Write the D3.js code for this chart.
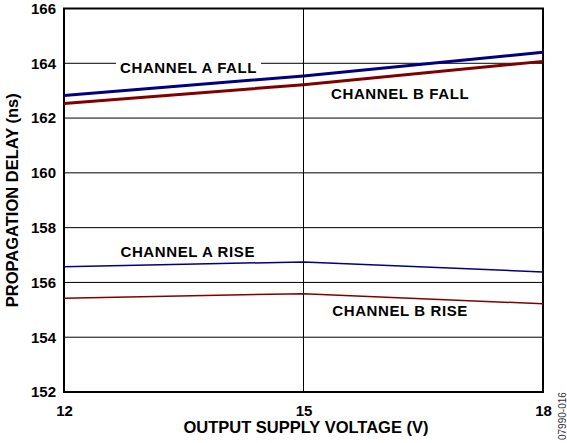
<!DOCTYPE html>
<html>
<head>
<meta charset="utf-8">
<script src="https://cdn.jsdelivr.net/npm/d3@7"></script>
<style>
  body { margin: 0; background: #fff; }
  text { font-family: "Liberation Sans", Arial, sans-serif; font-weight: bold; }
</style>
</head>
<body>
<div id="chart"></div>
<script>
// data
const voltage = [12, 15, 18];
const aFall = [162.82, 163.54, 164.4];
const bFall = [162.53, 163.22, 164.07];
const aRise = [156.57, 156.75, 156.38];
const bRise = [155.42, 155.59, 155.22];
const xTicks = [12, 15, 18];
const yTicks = [152, 154, 156, 158, 160, 162, 164, 166];

const W = 567, H = 443;
const margin = {top: 8.5, right: 24, bottom: 51, left: 64};
const width = W - margin.left - margin.right,
      height = H - margin.top - margin.bottom;

const svg = d3.select("#chart").append("svg")
  .attr("width", W).attr("height", H);
const g = svg.append("g")
  .attr("transform", "translate(" + margin.left + "," + margin.top + ")");

const x = d3.scaleLinear().domain([12, 18]).range([0, width]);
const y = d3.scaleLinear().domain([152, 166]).range([height, 0]);

// grid
g.selectAll(".hgrid").data(yTicks.slice(1, -1)).enter().append("line")
  .attr("x1", 0).attr("x2", width)
  .attr("y1", d => y(d)).attr("y2", d => y(d))
  .attr("stroke", "#000").attr("stroke-width", 1);
g.append("line")
  .attr("x1", x(15)).attr("x2", x(15))
  .attr("y1", 0).attr("y2", height)
  .attr("stroke", "#000").attr("stroke-width", 1);

// axes labels
const yAxis = d3.axisLeft(y).tickValues(yTicks).tickFormat(d3.format("d")).tickSize(0).tickPadding(8);
const xAxis = d3.axisBottom(x).tickValues(xTicks).tickFormat(d3.format("d")).tickSize(0).tickPadding(13);
g.append("g").call(yAxis)
  .call(s => s.select(".domain").remove())
  .call(s => s.attr("font-family", null).attr("font-size", null))
  .selectAll("text").style("font-size", "15px").attr("fill", "#000");
g.append("g").attr("transform", "translate(0," + height + ")").call(xAxis)
  .call(s => s.select(".domain").remove())
  .call(s => s.attr("font-family", null).attr("font-size", null))
  .selectAll("text").style("font-size", "15px").attr("fill", "#000");

// frame
g.append("rect").attr("width", width).attr("height", height)
  .attr("fill", "none").attr("stroke", "#000").attr("stroke-width", 2);

// series
const line = d3.line().x((d, i) => x(voltage[i])).y(d => y(d));
const series = [
  {v: aRise, c: "#000080", w: 1.5},
  {v: bRise, c: "#800000", w: 1.5},
  {v: aFall, c: "#000080", w: 3},
  {v: bFall, c: "#800000", w: 3}
];
g.selectAll(".series").data(series).enter().append("path")
  .attr("d", d => line(d.v))
  .attr("fill", "none")
  .attr("stroke", d => d.c)
  .attr("stroke-width", d => d.w);

// line labels
const labels = [
  {t: "CHANNEL A FALL", x: 13.56, y: 163.85, bg: true},
  {t: "CHANNEL B FALL", x: 16.21, y: 162.88, bg: false},
  {t: "CHANNEL A RISE", x: 13.55, y: 157.13, bg: false},
  {t: "CHANNEL B RISE", x: 16.21, y: 154.96, bg: false}
];
labels.forEach(l => {
  const tx = g.append("text")
    .attr("x", x(l.x)).attr("y", y(l.y))
    .attr("text-anchor", "middle").attr("dy", "0.35em")
    .style("font-size", "15px").style("letter-spacing", "0.6px")
    .attr("fill", "#000")
    .text(l.t);
  if (l.bg) {
    const b = tx.node().getBBox();
    g.append("rect")
      .attr("x", b.x - 4).attr("y", b.y - 1)
      .attr("width", b.width + 8).attr("height", b.height + 2)
      .attr("fill", "#fff");
    tx.raise();
  }
});

// axis titles
svg.append("text")
  .attr("x", 306).attr("y", 433)
  .attr("text-anchor", "middle").style("font-size", "16.5px")
  .text("OUTPUT SUPPLY VOLTAGE (V)");
svg.append("text")
  .attr("transform", "translate(17.5," + (margin.top + height / 2) + ") rotate(-90)")
  .attr("text-anchor", "middle").style("font-size", "16.5px")
  .text("PROPAGATION DELAY (ns)");

// figure id
svg.append("text")
  .attr("transform", "translate(566,440) rotate(-90)")
  .style("font-size", "10px").style("font-weight", "normal")
  .attr("fill", "#333")
  .text("07990-016");
</script>
</body>
</html>
